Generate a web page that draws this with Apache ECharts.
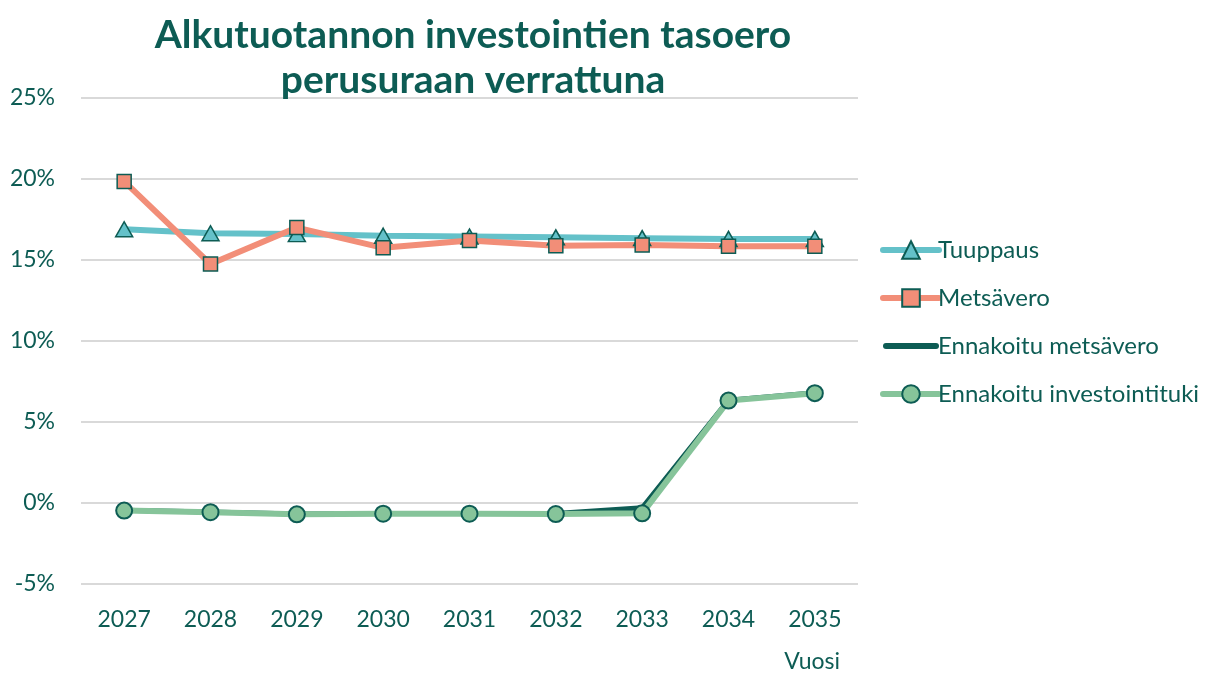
<!DOCTYPE html>
<html>
<head>
<meta charset="utf-8">
<script src="https://cdn.jsdelivr.net/npm/echarts@6/dist/echarts.min.js"></script>
<style>html,body{margin:0;padding:0;background:#fff}#c{width:1210px;height:674px}</style>
</head>
<body>
<div id="c"></div>
<script>
const years = ['2027','2028','2029','2030','2031','2032','2033','2034','2035'];
const tuuppaus = [16.9, 16.65, 16.6, 16.5, 16.45, 16.4, 16.35, 16.3, 16.3];
const metsavero = [19.85, 14.75, 17.0, 15.75, 16.2, 15.88, 15.93, 15.85, 15.85];
const ennakoituMetsavero = [-0.45, -0.55, -0.68, -0.65, -0.65, -0.65, -0.3, 6.35, 6.8];
const ennakoituInvestointituki = [-0.47, -0.57, -0.7, -0.66, -0.66, -0.68, -0.64, 6.32, 6.78];
const seriesNames = ['Tuuppaus','Metsävero','Ennakoitu metsävero','Ennakoitu investointituki'];
const TXT = '#0d5c54';
const FONT = 'Lato, "Open Sans", sans-serif';

const chart = echarts.init(document.getElementById('c'), null, {renderer:'canvas'});
chart.setOption({
  animation:false,
  backgroundColor:'#fff',
  title:{
    text:'Alkutuotannon investointien tasoero\nperusuraan verrattuna',
    left:468, top:8, textAlign:'center',
    textStyle:{color:TXT, fontSize:39, fontWeight:'bold', fontFamily:FONT, lineHeight:45}
  },
  grid:{left:81, right:352, top:98, bottom:90, containLabel:false},
  legend:{
    orient:'vertical', left:880, top:238, padding:0,
    itemWidth:56, itemHeight:22, itemGap:24,
    symbolKeepAspect:true,
    lineStyle:{width:6, cap:'round'},
    data:[
      {name:seriesNames[0]},
      {name:seriesNames[1]},
      {name:seriesNames[2], icon:'path://M3,0 L53,0 A3,3 0 0 1 53,6 L3,6 A3,3 0 0 1 3,0 Z'},
      {name:seriesNames[3]}
    ],
    textStyle:{color:TXT, fontSize:24, fontFamily:FONT, padding:[0,0,0,-6]}
  },
  xAxis:{
    type:'category', data:years, boundaryGap:true,
    axisLine:{show:false}, axisTick:{show:false},
    axisLabel:{color:TXT, fontSize:23, fontFamily:FONT, margin:24}
  },
  yAxis:{
    type:'value', min:-5, max:25, interval:5,
    axisLine:{show:false}, axisTick:{show:false},
    axisLabel:{color:TXT, fontSize:23, fontFamily:FONT, margin:26, formatter:v=>v+'%'},
    splitLine:{lineStyle:{color:'#d9d9d9', width:2}}
  },
  graphic:[{type:'text', x:840, y:662, style:{text:'Vuosi', fill:TXT, font:'23px '+FONT, align:'right', verticalAlign:'middle'}}],
  series:[
    {name:seriesNames[0], type:'line', data:tuuppaus, symbol:'triangle', symbolSize:[17,15],
     lineStyle:{color:'#64c1c9', width:6}, itemStyle:{color:'#64c1c9', borderColor:'#0d5c54', borderWidth:1.5}},
    {name:seriesNames[1], type:'line', data:metsavero, symbol:'rect', symbolSize:14,
     lineStyle:{color:'#f28e78', width:6}, itemStyle:{color:'#f28e78', borderColor:'#0d5c54', borderWidth:1.5}},
    {name:seriesNames[2], type:'line', data:ennakoituMetsavero, symbol:'none', showSymbol:false,
     lineStyle:{color:'#0d5c54', width:5}, itemStyle:{color:'#0d5c54'}},
    {name:seriesNames[3], type:'line', data:ennakoituInvestointituki, symbol:'circle', symbolSize:16,
     lineStyle:{color:'#86c49a', width:6}, itemStyle:{color:'#86c49a', borderColor:'#0d5c54', borderWidth:2}}
  ]
});
</script>
</body>
</html>
